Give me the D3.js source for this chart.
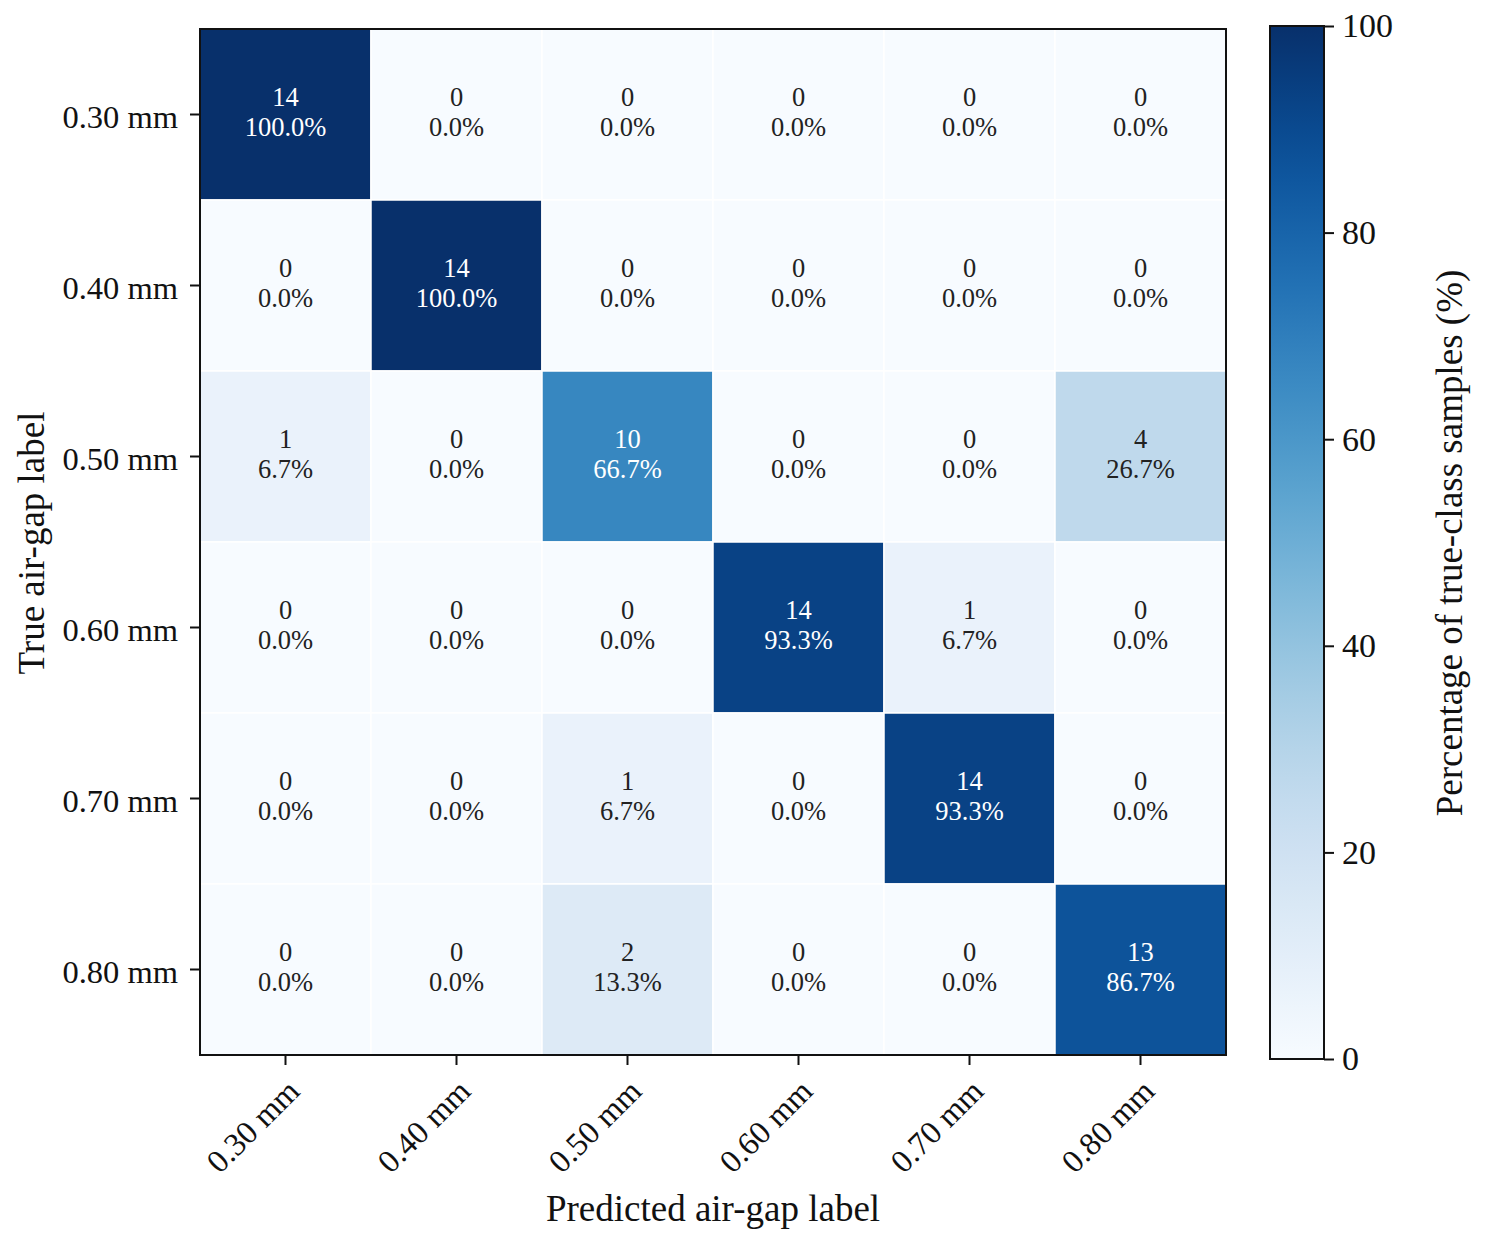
<!DOCTYPE html>
<html>
<head>
<meta charset="utf-8">
<script src="https://cdn.jsdelivr.net/npm/d3@7"></script>
<style>
  body { margin: 0; background: #fff; }
  svg text { font-family: "Liberation Serif", "Times New Roman", serif; fill: #111; }
</style>
</head>
<body>
<div id="canvas"></div>
<script>
var _width = 1485, _height = 1244;

// class labels (true rows / predicted columns)
var labels = ["0.30 mm", "0.40 mm", "0.50 mm", "0.60 mm", "0.70 mm", "0.80 mm"];
// sample counts, row = true label, col = predicted label
var counts = [
  [14, 0, 0, 0, 0, 0],
  [0, 14, 0, 0, 0, 0],
  [1, 0, 10, 0, 0, 4],
  [0, 0, 0, 14, 1, 0],
  [0, 0, 1, 0, 14, 0],
  [0, 0, 2, 0, 0, 13]
];
var cbTicks = [0, 20, 40, 60, 80, 100];

var plot = {x0: 200, y0: 29, size: 1026};
var cb = {x0: 1270, x1: 1324, y0: 26, y1: 1059};

var svg = d3.select('#canvas').append('svg')
    .attr('width', _width)
    .attr('height', _height);

var x = d3.scaleBand().domain(labels).range([plot.x0, plot.x0 + plot.size]);
var y = d3.scaleBand().domain(labels).range([plot.y0, plot.y0 + plot.size]);
var color = d3.scaleSequential(d3.interpolateBlues).domain([0, 100]);

// flatten into cells
var cells = [];
counts.forEach(function(row, i) {
    var total = d3.sum(row);
    row.forEach(function(v, j) {
        cells.push({r: labels[i], c: labels[j], n: v, pct: 100 * v / total});
    });
});

var g = svg.append('g');

g.selectAll('rect.cell').data(cells).enter().append('rect')
    .attr('class', 'cell')
    .attr('x', function(d) { return x(d.c); })
    .attr('y', function(d) { return y(d.r); })
    .attr('width', x.bandwidth())
    .attr('height', y.bandwidth())
    .style('fill', function(d) { return color(d.pct); })
    .style('stroke', 'white')
    .style('stroke-width', 1.5);

var txt = g.selectAll('text.val').data(cells).enter().append('text')
    .attr('class', 'val')
    .attr('text-anchor', 'middle')
    .style('font-size', '26.5px')
    .style('fill', function(d) { return d.pct > 50 ? 'white' : '#222'; });
txt.append('tspan')
    .attr('x', function(d) { return x(d.c) + x.bandwidth() / 2; })
    .attr('y', function(d) { return y(d.r) + y.bandwidth() / 2 - 9; })
    .text(function(d) { return d.n; });
txt.append('tspan')
    .attr('x', function(d) { return x(d.c) + x.bandwidth() / 2; })
    .attr('y', function(d) { return y(d.r) + y.bandwidth() / 2 + 21; })
    .text(function(d) { return d.pct.toFixed(1) + '%'; });

// frame
svg.append('rect')
    .attr('x', plot.x0).attr('y', plot.y0)
    .attr('width', plot.size).attr('height', plot.size)
    .style('fill', 'none').style('stroke', '#111').style('stroke-width', 2);

// y axis
var yAxis = svg.append('g')
    .attr('transform', 'translate(' + plot.x0 + ',0)')
    .call(d3.axisLeft(y).tickSize(10).tickPadding(12));
yAxis.select('.domain').remove();
yAxis.selectAll('line').style('stroke', '#111').style('stroke-width', 2);
yAxis.selectAll('text').style('font-size', '32.5px').style('font-family', '"Liberation Serif", serif').attr('fill', '#111')
    .attr('dy', '0.42em');

// x axis
var xAxis = svg.append('g')
    .attr('transform', 'translate(0,' + (plot.y0 + plot.size) + ')')
    .call(d3.axisBottom(x).tickSize(10));
xAxis.select('.domain').remove();
xAxis.selectAll('line').style('stroke', '#111').style('stroke-width', 2);
xAxis.selectAll('text')
    .style('font-size', '32.5px').style('font-family', '"Liberation Serif", serif').attr('fill', '#111')
    .attr('text-anchor', 'end')
    .attr('dy', null)
    .attr('y', 0)
    .attr('transform', 'translate(16,38) rotate(-45)');

// axis titles
svg.append('text')
    .attr('x', 713)
    .attr('y', 1221)
    .attr('text-anchor', 'middle')
    .style('font-size', '37px')
    .text('Predicted air-gap label');

svg.append('text')
    .attr('transform', 'translate(44,' + 543 + ') rotate(-90)')
    .attr('text-anchor', 'middle')
    .style('font-size', '37px')
    .text('True air-gap label');

// colorbar
var defs = svg.append('defs');
var grad = defs.append('linearGradient')
    .attr('id', 'cbgrad')
    .attr('x1', 0).attr('y1', 1).attr('x2', 0).attr('y2', 0);
d3.range(0, 1.0001, 0.05).forEach(function(t) {
    grad.append('stop').attr('offset', t).attr('stop-color', d3.interpolateBlues(t));
});

var cy = d3.scaleLinear().domain([0, 100]).range([cb.y1, cb.y0]);

svg.append('rect')
    .attr('x', cb.x0).attr('y', cb.y0)
    .attr('width', cb.x1 - cb.x0).attr('height', cb.y1 - cb.y0)
    .style('fill', 'url(#cbgrad)')
    .style('stroke', '#111').style('stroke-width', 2);

var cAxis = svg.append('g')
    .attr('transform', 'translate(' + cb.x1 + ',0)')
    .call(d3.axisRight(cy).tickValues(cbTicks).tickSize(10).tickPadding(8));
cAxis.select('.domain').remove();
cAxis.selectAll('line').style('stroke', '#111').style('stroke-width', 2);
cAxis.selectAll('text').style('font-size', '34px').style('font-family', '"Liberation Serif", serif').attr('fill', '#111');

svg.append('text')
    .attr('transform', 'translate(1462,' + 543 + ') rotate(-90)')
    .attr('text-anchor', 'middle')
    .style('font-size', '37px')
    .text('Percentage of true-class samples (%)');
</script>
</body>
</html>
